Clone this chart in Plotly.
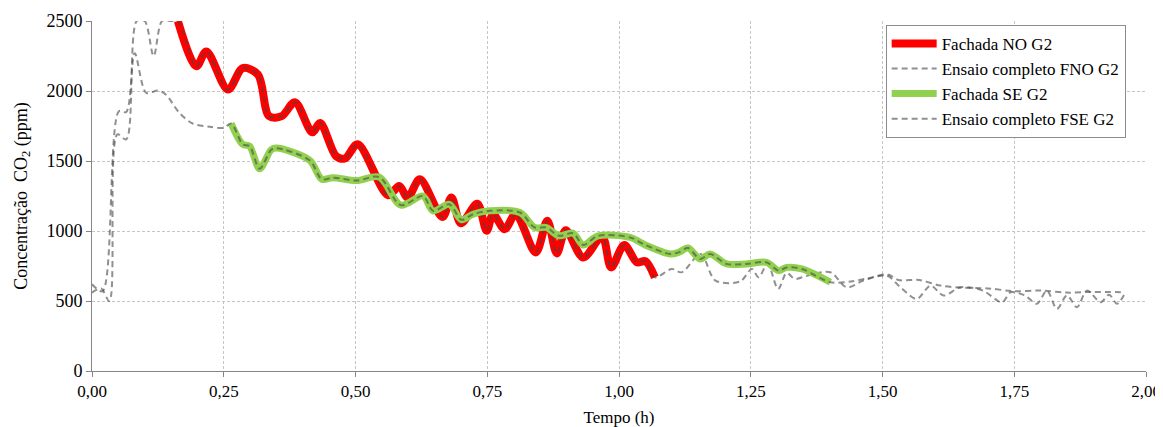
import plotly.graph_objects as go

# --- data (time in h, CO2 in ppm) ---
# Fachada NO G2 (highlighted part of the FNO test)
no_t = [0.163, 0.198, 0.217, 0.258, 0.286, 0.315, 0.336, 0.360, 0.385, 0.418, 0.433,
        0.463, 0.480, 0.504, 0.562, 0.583, 0.599, 0.622, 0.665, 0.682, 0.700, 0.731,
        0.749, 0.761, 0.783, 0.804, 0.842, 0.864, 0.882, 0.899, 0.932, 0.968, 0.985,
        1.010, 1.034, 1.050, 1.068]
no_co2 = [2500, 2176, 2283, 2010, 2164, 2117, 1820, 1820, 1920, 1705, 1772,
          1535, 1518, 1619, 1255, 1322, 1238, 1369, 1100, 1240, 1055, 1195,
          1001, 1120, 1013, 1120, 847, 1073, 840, 1005, 811, 960, 740,
          900, 776, 785, 669]

# Ensaio completo FNO G2: before and after the highlighted part
fno_t_start = [0.000, 0.017, 0.033, 0.048, 0.065, 0.085, 0.100, 0.117, 0.133, 0.150]
fno_start = [560, 590, 500, 1690, 1655, 2500, 2500, 2250, 2500, 2500]
fno_t_end = [1.100, 1.119, 1.155, 1.183, 1.230, 1.252, 1.265, 1.282, 1.302, 1.318,
             1.334, 1.357, 1.401, 1.432, 1.464, 1.508, 1.534, 1.565, 1.591, 1.616,
             1.648, 1.690, 1.727, 1.743, 1.770, 1.793, 1.812, 1.831, 1.850, 1.869,
             1.888, 1.914, 1.930, 1.945, 1.961]
fno_end = [729, 705, 836, 646, 640, 729, 669, 765, 586, 700,
           658, 681, 705, 598, 646, 681, 598, 515, 610, 539,
           598, 575, 491, 562, 540, 480, 574, 444, 540, 456,
           574, 491, 545, 480, 562]

# Fachada SE G2 (highlighted part of the FSE test)
se_t = [0.264, 0.286, 0.299, 0.318, 0.340, 0.350, 0.413, 0.436, 0.457, 0.502,
        0.545, 0.586, 0.628, 0.647, 0.678, 0.701, 0.723, 0.755, 0.812, 0.840,
        0.862, 0.886, 0.913, 0.932, 0.960, 1.021, 1.050, 1.097, 1.113, 1.131,
        1.154, 1.173, 1.204, 1.242, 1.280, 1.303, 1.318, 1.347, 1.401]
se_co2 = [1768, 1619, 1606, 1445, 1580, 1592, 1505, 1370, 1381, 1360,
          1385, 1185, 1250, 1144, 1191, 1080, 1120, 1144, 1132, 1025,
          1025, 966, 984, 900, 965, 954, 900, 836, 847, 878,
          800, 836, 765, 765, 776, 717, 740, 729, 634]

# Ensaio completo FSE G2: before and after the highlighted part
fse_t_start = [0.000, 0.020, 0.051, 0.065, 0.081, 0.103, 0.125, 0.140, 0.166, 0.191,
               0.223, 0.250]
fse_start = [620, 570, 1855, 1850, 2270, 1986, 2003, 1975, 1843, 1768,
             1744, 1737]
fse_t_end = [1.440, 1.470, 1.510, 1.530, 1.570, 1.610, 1.650, 1.700, 1.750, 1.800,
             1.850, 1.900, 1.960]
fse_end = [640, 660, 690, 650, 650, 610, 595, 590, 570, 575,
           560, 565, 562]

fno_t = fno_t_start + no_t + fno_t_end
fno_co2 = fno_start + no_co2 + fno_end
fse_t = fse_t_start + se_t + fse_t_end
fse_co2 = fse_start + se_co2 + fse_end

FONT = 'Liberation Serif, Times New Roman, serif'
GRAY_DASH = 'rgba(70,70,70,0.6)'

fig = go.Figure()

fig.add_trace(go.Scatter(
    x=no_t, y=no_co2, name='Fachada NO G2', mode='lines',
    line=dict(color='#ff0000', width=8, shape='spline', smoothing=0.9)
))
fig.add_trace(go.Scatter(
    x=fno_t, y=fno_co2, name='Ensaio completo FNO G2', mode='lines',
    line=dict(color=GRAY_DASH, width=2, dash='6px,4px', shape='spline', smoothing=0.9)
))
fig.add_trace(go.Scatter(
    x=se_t, y=se_co2, name='Fachada SE G2', mode='lines',
    line=dict(color='#92d050', width=7, shape='spline', smoothing=0.9)
))
fig.add_trace(go.Scatter(
    x=fse_t, y=fse_co2, name='Ensaio completo FSE G2', mode='lines',
    line=dict(color=GRAY_DASH, width=2, dash='6px,4px', shape='spline', smoothing=0.9)
))

# the page puts the figure 8px in from the top-left corner
fig.update_layout(
    width=1155, height=419,
    margin=dict(l=84, r=17, t=13, b=56),
    paper_bgcolor='white', plot_bgcolor='white',
    font=dict(family=FONT, size=17, color='black'),
    separators=',.',
    showlegend=True,
    legend=dict(
        x=0.753, y=0.989, xanchor='left', yanchor='top',
        bgcolor='white', bordercolor='#8c8c8c', borderwidth=1,
        font=dict(family=FONT, size=17, color='black'),
        traceorder='normal', itemwidth=45
    )
)

fig.update_xaxes(
    range=[0, 2], dtick=0.25, tick0=0, tickformat='.2f',
    showline=True, linecolor='#868686', linewidth=1,
    ticks='outside', ticklen=5, tickcolor='#868686',
    showgrid=True, gridcolor='#c6c6c6', gridwidth=1, griddash='3px,2px',
    zeroline=False, automargin=False,
    title=dict(text='Tempo (h)', standoff=14, font=dict(family=FONT, size=17)),
    tickfont=dict(family=FONT, size=17)
)
fig.update_yaxes(
    range=[0, 2500], dtick=500, tick0=0,
    showline=True, linecolor='#868686', linewidth=1,
    ticks='outside', ticklen=5, tickcolor='#868686',
    showgrid=True, gridcolor='#c6c6c6', gridwidth=1, griddash='3px,2px',
    zeroline=False, automargin=False,
    title=dict(text='Concentração  CO<sub>2</sub> (ppm)', standoff=14,
               font=dict(family=FONT, size=18)),
    tickfont=dict(family=FONT, size=18)
)

fig.write_html("out.html")
